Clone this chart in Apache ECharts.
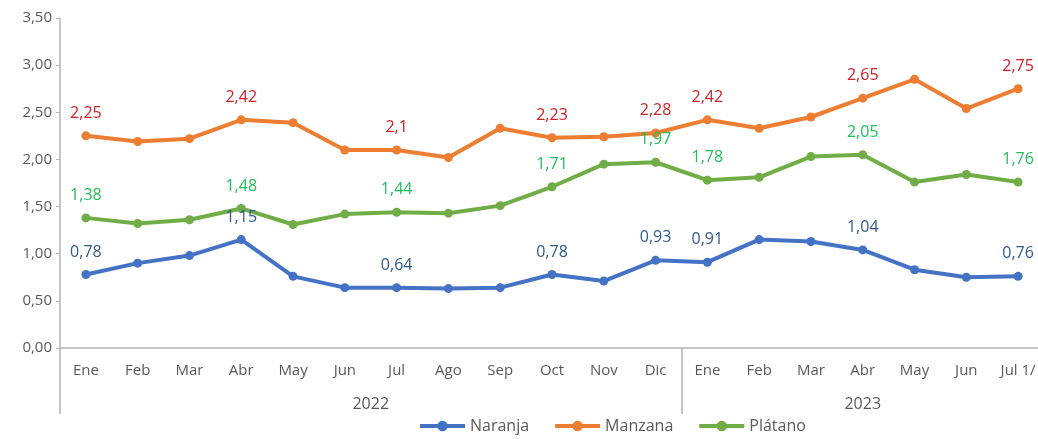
<!DOCTYPE html>
<html>
<head>
<meta charset="utf-8">
<script src="https://cdn.jsdelivr.net/npm/echarts@6/dist/echarts.min.js"></script>
<style>
    html, body { margin: 0; padding: 0; width: 100%; height: 100%; background: #fff; }
    #main { width: 1038px; height: 439px; }
</style>
</head>
<body>
<div id="main"></div>
<script>
    // meses (ene 2022 - jul 2023)
    var meses = ['Ene','Feb','Mar','Abr','May','Jun','Jul','Ago','Sep','Oct','Nov','Dic',
                 'Ene','Feb','Mar','Abr','May','Jun','Jul 1/'];
    var naranja = [0.78,0.90,0.98,1.15,0.76,0.64,0.64,0.63,0.64,0.78,0.71,0.93,
                   0.91,1.15,1.13,1.04,0.83,0.75,0.76];
    var manzana = [2.25,2.19,2.22,2.42,2.39,2.10,2.1,2.02,2.33,2.23,2.24,2.28,
                   2.42,2.33,2.45,2.65,2.85,2.54,2.75];
    var platano = [1.38,1.32,1.36,1.48,1.31,1.42,1.44,1.43,1.51,1.71,1.95,1.97,
                   1.78,1.81,2.03,2.05,1.76,1.84,1.76];
    // indices con etiqueta visible
    var conEtiqueta = [0,3,6,9,11,12,15,18];
    // años, centro de cada grupo en unidades de categoría
    var anios = [{ pos: 6, txt: '2022' }, { pos: 15.5, txt: '2023' }];
    var yTicks = [0, 0.5, 1, 1.5, 2, 2.5, 3, 3.5];

    var fuente = '"Open Sans", "Liberation Sans", sans-serif';
    var gris = '#595959';

    function coma(v) {
        return String(v).replace('.', ',');
    }

    function serie(nombre, valores, color, colorEtiqueta) {
        return {
            name: nombre,
            type: 'line',
            xAxisIndex: 0,
            symbol: 'circle',
            symbolSize: 9,
            lineStyle: { width: 4, color: color },
            itemStyle: { color: color },
            label: {
                position: 'top',
                distance: 10,
                color: colorEtiqueta,
                fontFamily: fuente,
                fontSize: 16,
                formatter: function (p) { return coma(p.value); }
            },
            data: valores.map(function (v, i) {
                return { value: v, label: { show: conEtiqueta.indexOf(i) >= 0 } };
            }),
            z: 3
        };
    }

    var chart = echarts.init(document.getElementById('main'));
    chart.setOption({
        animation: false,
        textStyle: { fontFamily: fuente },
        grid: { left: 60, top: 18, width: 984, height: 330, containLabel: false, outerBoundsMode: 'none' },
        legend: {
            bottom: 0,
            left: 413,
            itemWidth: 45,
            itemHeight: 13,
            itemGap: 24,
            lineStyle: { width: 4 },
            textStyle: { color: gris, fontSize: 16, fontFamily: fuente },
            data: ['Naranja', 'Manzana', 'Plátano']
        },
        xAxis: [{
            type: 'category',
            data: meses,
            boundaryGap: true,
            axisLine: { lineStyle: { color: '#B4B4B4', width: 1.5 } },
            axisTick: {
                show: true,
                length: 66,
                interval: function (i) { return i === 0 || i === 12; },
                lineStyle: { color: '#B4B4B4', width: 1.5 }
            },
            axisLabel: { color: gris, fontSize: 15, margin: 15, interval: 0, fontFamily: fuente }
        }, {
            type: 'value',
            position: 'bottom',
            min: 0,
            max: meses.length,
            interval: 0.5,
            axisLine: { show: false },
            axisTick: { show: false },
            splitLine: { show: false },
            axisLabel: {
                color: gris,
                fontSize: 16,
                margin: 48,
                fontFamily: fuente,
                formatter: function (v) {
                    for (var k = 0; k < anios.length; k++) {
                        if (Math.abs(anios[k].pos - v) < 1e-6) return anios[k].txt;
                    }
                    return '';
                }
            }
        }],
        yAxis: {
            type: 'value',
            min: yTicks[0],
            max: yTicks[yTicks.length - 1],
            interval: 0.5,
            axisLine: { show: true, lineStyle: { color: '#B4B4B4', width: 1.5 } },
            axisTick: { show: true, length: 4, lineStyle: { color: '#B4B4B4' } },
            splitLine: { show: false },
            axisLabel: {
                color: gris,
                fontSize: 15,
                margin: 8,
                fontFamily: fuente,
                formatter: function (v) { return v.toFixed(2).replace('.', ','); }
            }
        },
        series: [
            serie('Naranja', naranja, '#4472C4', '#2F5A8C'),
            serie('Manzana', manzana, '#ED7D31', '#D0202A'),
            serie('Plátano', platano, '#70AD47', '#1FBF5A')
        ]
    });
</script>
</body>
</html>
